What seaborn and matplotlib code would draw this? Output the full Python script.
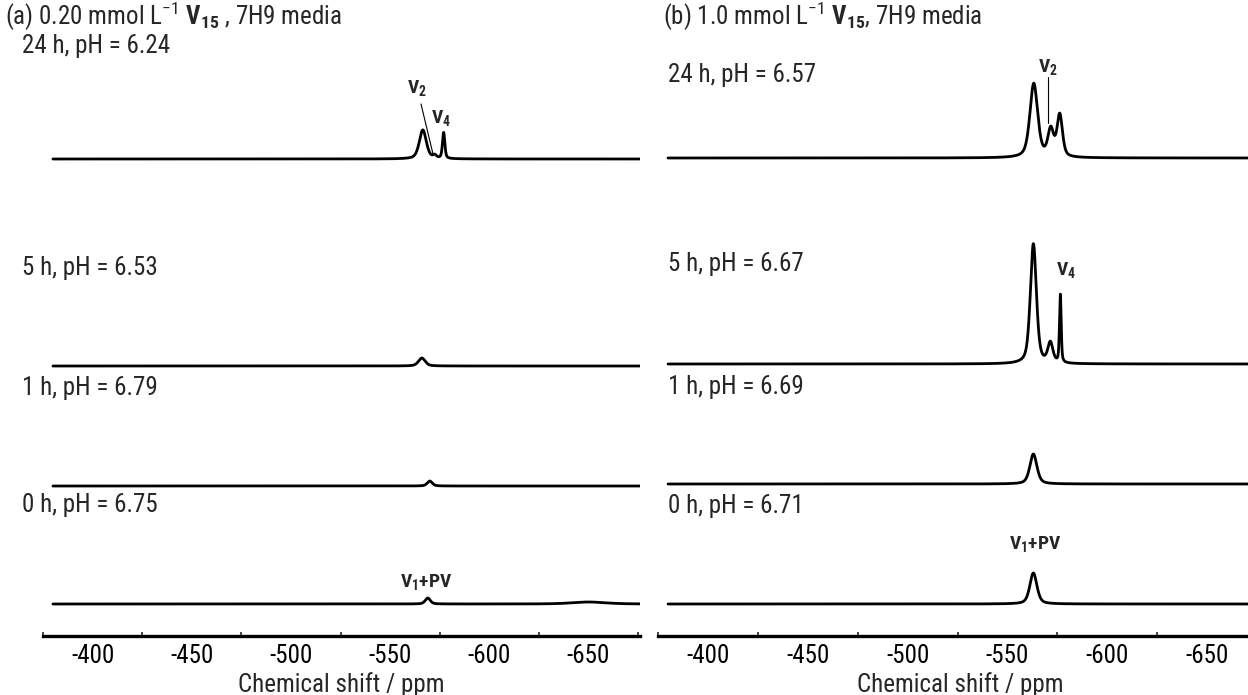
import numpy as np
import matplotlib
matplotlib.use("Agg")
import matplotlib.pyplot as plt
from matplotlib import font_manager as fm
import seaborn as sns

sns.set_theme(style="white")

# pick a narrow sans-serif face if one is installed
PREFERRED = ["Liberation Sans Narrow", "Arial Narrow", "Nimbus Sans Narrow",
             "Roboto Condensed", "Open Sans Condensed", "Noto Sans Condensed",
             "DejaVu Sans", "Noto Sans", "Roboto", "Open Sans"]
narrow = {}
for f in fm.fontManager.ttflist:
    if f.stretch in ("condensed", "semi-condensed", "extra-condensed") or \
            "Narrow" in f.name or "Condensed" in f.name:
        narrow.setdefault(f.name, f.stretch)
FAMILY, STRETCH = "Liberation Sans", "normal"
for name in PREFERRED:
    if name in narrow:
        FAMILY, STRETCH = name, narrow[name]
        break
IS_NARROW = STRETCH != "normal"

plt.rcParams["font.family"] = [FAMILY, "DejaVu Sans"]
plt.rcParams["font.stretch"] = STRETCH
plt.rcParams["mathtext.fontset"] = "custom"
plt.rcParams["mathtext.rm"] = f"{FAMILY}:stretch={STRETCH}"
plt.rcParams["mathtext.it"] = f"{FAMILY}:stretch={STRETCH}"
plt.rcParams["mathtext.bf"] = f"{FAMILY}:bold:stretch={STRETCH}"

FS = 18 if IS_NARROW else 16
FS_CAP = 18 if IS_NARROW else 16
FS_LAB = 14 if IS_NARROW else 12

W, H = 1248, 695

# 51V NMR peak tables: (centre / ppm, height / display units, FWHM / ppm)
peaks_a = {
    "24 h": [(-566.5, 29, 4.2), (-572.5, 3, 2.0), (-577.0, 26, 1.4)],
    "5 h": [(-566.0, 8, 4.0)],
    "1 h": [(-570.0, 5, 3.0)],
    "0 h": [(-569.0, 6, 3.0), (-650.0, 2, 20.0)],
}
peaks_b = {
    "24 h": [(-563.2, 74, 4.6), (-571.7, 27, 3.4), (-576.2, 42, 3.2)],
    "5 h": [(-563.0, 120, 3.6), (-571.5, 20, 3.0), (-576.5, 68, 1.0)],
    "1 h": [(-563.0, 30, 4.2)],
    "0 h": [(-563.0, 31, 4.2)],
}
times = ["24 h", "5 h", "1 h", "0 h"]
ph_a = ["6.24", "6.53", "6.79", "6.75"]
ph_b = ["6.57", "6.67", "6.69", "6.71"]

# vertical position (pixels from the top) of each trace's baseline and caption
base_a = [159, 366, 486, 604]
base_b = [158, 364, 484, 604]
cap_a = [46, 268, 388, 505]
cap_b = [75, 264, 387, 506]

ticks = [-400, -450, -500, -550, -600, -650]
ppm = np.arange(-380.0, -680.0, -0.1)

AX_BOTTOM = 636  # pixel row of the shift axis
ETA = 0.5        # Lorentzian fraction of the pseudo-Voigt line shape


def spectrum(table):
    y = np.zeros_like(ppm)
    for c, h, fwhm in table:
        u = (ppm - c) / (fwhm / 2.0)
        y += h * (ETA / (1.0 + u ** 2) + (1 - ETA) * np.exp(-np.log(2) * u ** 2))
    return y


def make_axes(left_px, right_px, left_ppm):
    ax = fig.add_axes([left_px / W, (H - AX_BOTTOM) / H,
                       (right_px - left_px) / W, AX_BOTTOM / H])
    ax.set_xlim(left_ppm, left_ppm - (right_px - left_px) / 2.0)
    ax.set_ylim(0, AX_BOTTOM)
    for s in ["top", "left", "right"]:
        ax.spines[s].set_visible(False)
    ax.spines["bottom"].set_linewidth(2.4)
    ax.spines["bottom"].set_color("black")
    ax.set_yticks([])
    ax.set_xticks(ticks)
    ax.set_xticklabels([str(t) for t in ticks])
    ax.set_xticks(np.arange(-375, -700, -50), minor=True)
    ax.tick_params(axis="x", which="major", direction="out", length=5, width=1.5,
                   labelsize=FS, pad=1, colors="black")
    ax.tick_params(axis="x", which="minor", direction="in", length=3, width=1.2,
                   bottom=True)
    ax.set_xlabel("Chemical shift / ppm", fontsize=FS, labelpad=3)
    ax.patch.set_alpha(0)
    return ax


fig = plt.figure(figsize=(W / 100, H / 100), dpi=100)
ax_a = make_axes(43, 640, -377.5)
ax_b = make_axes(658, 1262, -375.5)


def draw_panel(ax, table, bases, caps, phs, left_px):
    for t, b, cy, ph in zip(times, bases, caps, phs):
        y = spectrum(table[t]) + (AX_BOTTOM - b)
        sns.lineplot(x=ppm, y=y, ax=ax, color="black", lw=2.0,
                     estimator=None, sort=False)
        fig.text(left_px / W, 1 - cy / H, f"{t}, pH = {ph}", fontsize=FS_CAP,
                 va="center", ha="left")


draw_panel(ax_a, peaks_a, base_a, cap_a, ph_a, 22)
draw_panel(ax_b, peaks_b, base_b, cap_b, ph_b, 668)

fig.text(5 / W, 1 - 16 / H,
         r"(a) 0.20 mmol L$^{-1}$ $\mathbf{V}_{\mathbf{15}}$ , 7H9 media",
         fontsize=FS_CAP, va="center", ha="left")
fig.text(663 / W, 1 - 16 / H,
         r"(b) 1.0 mmol L$^{-1}$ $\mathbf{V}_{\mathbf{15}}$, 7H9 media",
         fontsize=FS_CAP, va="center", ha="left")


def label(px, py, s):
    fig.text(px / W, 1 - py / H, s, fontsize=FS_LAB, ha="center", va="center")


label(417, 88, r"$\mathbf{V}_{\mathbf{2}}$")
label(441, 118, r"$\mathbf{V}_{\mathbf{4}}$")
label(426, 582, r"$\mathbf{V}_{\mathbf{1}}\mathbf{+PV}$")
label(1048, 67, r"$\mathbf{V}_{\mathbf{2}}$")
label(1066, 270, r"$\mathbf{V}_{\mathbf{4}}$")
label(1035, 544, r"$\mathbf{V}_{\mathbf{1}}\mathbf{+PV}$")

fig.add_artist(plt.Line2D([421 / W, 433 / W], [1 - 104 / H, 1 - 154 / H],
                          color="black", lw=0.8))
fig.add_artist(plt.Line2D([1048 / W, 1048 / W], [1 - 77 / H, 1 - 123 / H],
                          color="black", lw=0.8))

fig.savefig("out.png", dpi=100)
